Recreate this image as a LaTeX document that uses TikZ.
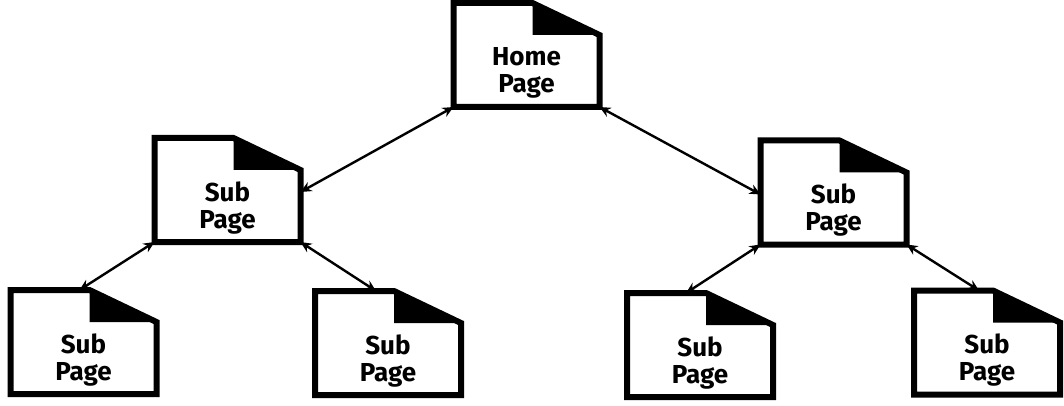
\documentclass[tikz,border=0pt]{standalone}
\usepackage{fontspec}
\setmainfont{Fira Sans}
\usetikzlibrary{arrows.meta}
\tikzset{
	page/.style={minimum width=73pt, minimum height=52pt, inner sep=0pt, outer sep=0pt},
	pageline/.style={line width=3pt, line join=miter},
	pagetext/.style={font=\bfseries\fontsize{13}{13.5}\selectfont, align=center, inner sep=0pt},
	link/.style={line width=1.2pt, {Stealth[length=5.5pt,width=5pt]}-{Stealth[length=5.5pt,width=5pt]}},
}

\begin{document}
\begin{tikzpicture}[x=0.5pt, y=-0.5pt]
	\useasboundingbox (0,0) rectangle (1064,406);
	% the pages
	\node[page] (home) at (526.5, 55) {};
	\node[page] (subL) at (227.5, 190) {};
	\node[page] (subR) at (833.5, 192.5) {};
	\node[page] (subLL) at (83.5, 342) {};
	\node[page] (subLR) at (388, 343) {};
	\node[page] (subRL) at (700, 345) {};
	\node[page] (subRR) at (987, 342.5) {};
	\foreach \n in {home, subL, subR, subLL, subLR, subRL, subRR} {
		\draw[pageline] (\n.north west) -- ([xshift=-33.5pt]\n.north east) -- ([yshift=-16pt]\n.north east) -- (\n.south east) -- (\n.south west) -- cycle;
		\fill ([xshift=-33.5pt]\n.north east) -- ([xshift=-33.5pt, yshift=-16pt]\n.north east) -- ([yshift=-16pt]\n.north east) -- cycle;
	}
	% labels
	\node[pagetext] (home-t) at ([yshift=-9pt]home.center) {Home\\Page};
	\foreach \n in {subL, subR, subLL, subLR, subRL, subRR}
		\node[pagetext] (\n-t) at ([yshift=-9pt]\n.center) {Sub\\Page};
	% links
	\draw[link] (home.south west) -- ([yshift=-1pt]subL.east);
	\draw[link] (home.south east) -- ([yshift=-1pt]subR.west);
	\draw[link] (subL.south west) -- ([xshift=-2pt]subLL.north);
	\draw[link] (subL.south east) -- ([xshift=-6pt]subLR.north);
	\draw[link] (subR.south west) -- ([xshift=-7pt]subRL.north);
	\draw[link] (subR.south east) -- ([xshift=-4pt]subRR.north);
\end{tikzpicture}
\end{document}
